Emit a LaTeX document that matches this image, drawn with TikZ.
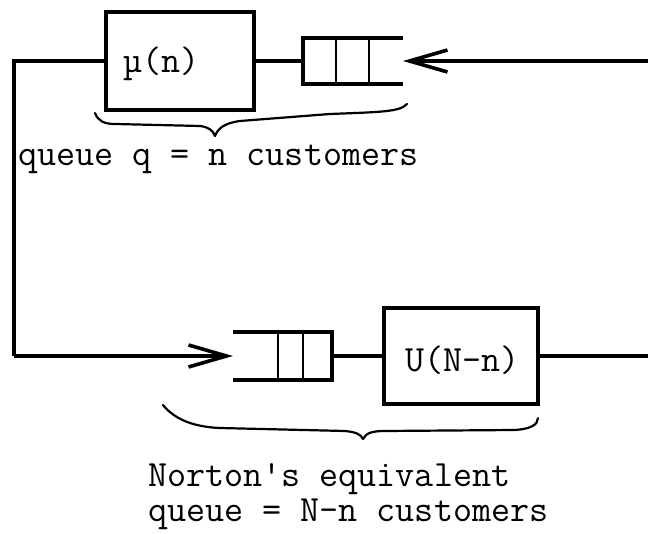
\documentclass[tikz,border=0pt]{standalone}
\usepackage{fontspec}
\usetikzlibrary{arrows.meta}
\begin{document}
\begin{tikzpicture}[x=1pt,y=-1pt,
  wire/.style={line width=3.2pt},
  qline/.style={line width=3.2pt, line join=miter},
  divline/.style={line width=2.8pt},
  boxnode/.style={draw, line width=3.2pt, inner sep=0pt, outer sep=0pt},
  lbl/.style={font=\ttfamily\fontsize{37}{40}\selectfont, inner sep=0pt, anchor=base west},
  arr/.style={line width=3.2pt, -{Straight Barb[length=38pt,width=22pt,line width=3.6pt]}},
  brc/.style={line width=2.2pt, line cap=round, line join=round}]
\useasboundingbox (0,0) rectangle (648,534);

% servers
\node[boxnode, minimum width=148pt, minimum height=98pt] (mu) at (180,61) {};
\node[lbl] (mutext) at (123,73) {µ(n)};
\node[boxnode, minimum width=154pt, minimum height=96pt] (U) at (461,356) {};
\node[lbl] (Utext) at (405,372) {U(N-n)};

% queue ends and wire corners
\coordinate (tqout) at (303,61);
\coordinate (tqin) at (403,61);
\coordinate (bqin) at (233,356);
\coordinate (bqout) at (332,356);
\coordinate (tl) at (14,61);
\coordinate (bl) at (14,356);
\coordinate (tr) at (648,61);
\coordinate (br) at (648,356);

% top queue
\draw[qline] (403,38) -- (303,38) -- (303,84) -- (403,84);
\draw[divline] (336,38) -- (336,84);
\draw[divline] (369,38) -- (369,84);

% bottom queue
\draw[qline] (233,332) -- (332,332) -- (332,380) -- (233,380);
\draw[divline] (278,332) -- (278,380);
\draw[divline] (303,332) -- (303,380);

% connectors
\draw[wire] (mu.east) -- (tqout);
\draw[arr] (tr) -- (tqin);
\draw[wire, line join=miter] (mu.west) -- (tl) -- (bl);
\draw[arr] (bl) -- (bqin);
\draw[wire] (bqout) -- (U.west);
\draw[wire] (U.east) -- (br);

% braces
\draw[brc] (95,113) .. controls (98,121) and (104,124) .. (115,124)
  -- (200,126) .. controls (208,127) and (213,130) .. (215,136)
  .. controls (218,128) and (225,123) .. (240,121)
  -- (330,114) .. controls (380,112) and (400,112) .. (407,104);
\draw[brc] (163,405) .. controls (175,420) and (195,427) .. (220,428)
  -- (345,431) .. controls (355,432) and (361,434) .. (363,439)
  .. controls (366,433) and (372,431) .. (385,431)
  -- (515,430) .. controls (530,429) and (538,425) .. (538,418);

% labels
\node[lbl] (toplabel) at (18,166) {queue q = n customers};
\node[lbl] (norton) at (148,486) {Norton's equivalent};
\node[lbl] (botlabel) at (148,521) {queue = N-n customers};
\end{tikzpicture}
\end{document}
